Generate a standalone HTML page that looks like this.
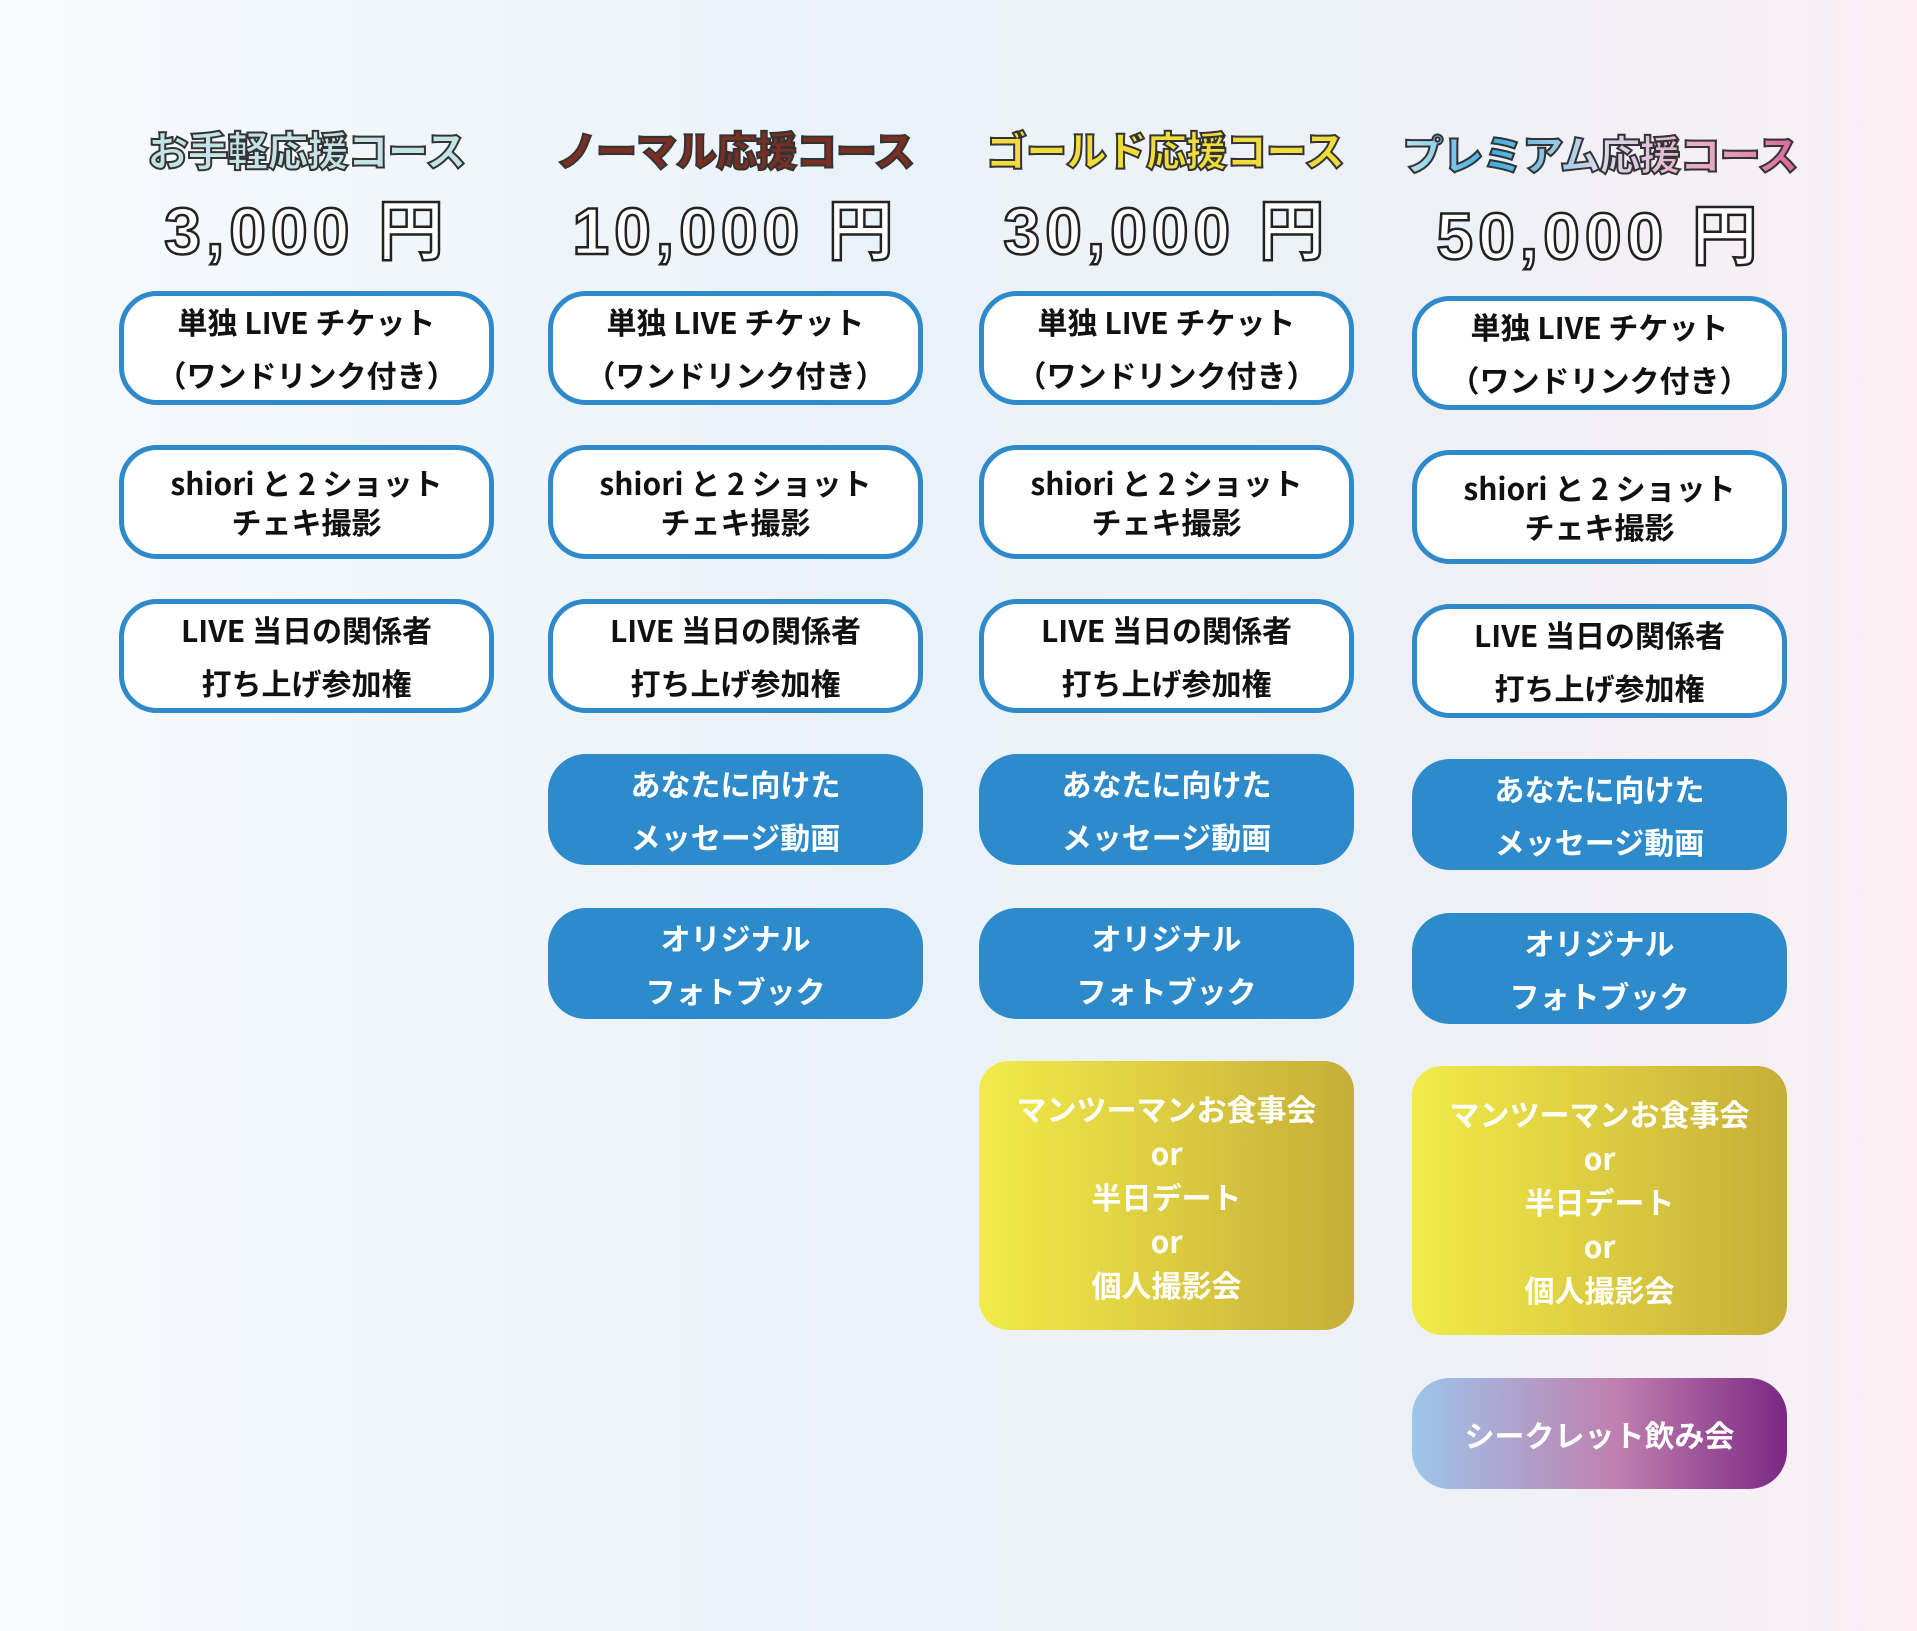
<!DOCTYPE html>
<html><head><meta charset="utf-8"><style>
*{margin:0;padding:0;box-sizing:border-box}
body{width:1917px;height:1631px;overflow:hidden;position:relative;
background:linear-gradient(90deg,#f7fafd 0%,#eaf2f9 45%,#edf1f7 75%,#fbeff3 100%);
font-family:"Liberation Sans","Noto Sans CJK JP",sans-serif;}
.t{position:absolute;text-align:center;font-family:"Noto Sans CJK JP",sans-serif;font-weight:900;font-size:41px;letter-spacing:-1px;-webkit-text-stroke:2px #333;white-space:nowrap;}
.p{position:absolute;text-align:center;font-family:"Liberation Sans","Noto Sans CJK JP",sans-serif;font-weight:bold;font-size:66px;color:#fff;-webkit-text-stroke:2.5px #222;letter-spacing:5px;white-space:nowrap}
.b{position:absolute;width:375px;display:flex;flex-direction:column;justify-content:center;align-items:center;text-align:center;font-family:"Noto Sans CJK JP",sans-serif;font-weight:bold;font-size:30px;border-radius:38px}
.w{background:#fff;border:5px solid #2f8acb;color:#111;height:114px}
.u{background:#2e8bcb;color:#fff;height:111px;line-height:53px}
.g{background:linear-gradient(90deg,#f2eb49,#c6ae38);color:#fff;height:269px;line-height:44px;border-radius:30px}
.s{background:linear-gradient(90deg,#9dc6ea 0%,#c07fae 55%,#7a2884 100%);color:#fff;height:111px}
</style></head><body>
<div class="t" style="left:119px;width:375px;top:118px;color:#c4e3e7">お手軽応援コース</div>
<div class="t" style="left:540px;width:390px;top:118px;color:#7a2f22">ノーマル応援コース</div>
<div class="t" style="left:970px;width:390px;top:118px;color:#f0dc3a">ゴールド応援コース</div>
<div class="t" style="left:1380px;width:440px;top:122px;background:linear-gradient(90deg,#e8f4fc,#3aaee0 25%,#d9d9ec 50%,#e8a8c5 75%,#d65690);-webkit-background-clip:text;background-clip:text;color:transparent">プレミアム応援コース</div>

<div class="p" style="left:119px;width:375px;top:178px">3,000 円</div>
<div class="p" style="left:548px;width:375px;top:178px">10,000 円</div>
<div class="p" style="left:979px;width:375px;top:178px">30,000 円</div>
<div class="p" style="left:1412px;width:375px;top:183px">50,000 円</div>

<!-- col1 -->
<div class="b w" style="left:119px;top:291px;line-height:53px">単独 LIVE チケット<br>（ワンドリンク付き）</div>
<div class="b w" style="left:119px;top:445px;line-height:39px">shiori と 2 ショット<br>チェキ撮影</div>
<div class="b w" style="left:119px;top:599px;line-height:53px">LIVE 当日の関係者<br>打ち上げ参加権</div>
<!-- col2 -->
<div class="b w" style="left:548px;top:291px;line-height:53px">単独 LIVE チケット<br>（ワンドリンク付き）</div>
<div class="b w" style="left:548px;top:445px;line-height:39px">shiori と 2 ショット<br>チェキ撮影</div>
<div class="b w" style="left:548px;top:599px;line-height:53px">LIVE 当日の関係者<br>打ち上げ参加権</div>
<div class="b u" style="left:548px;top:754px">あなたに向けた<br>メッセージ動画</div>
<div class="b u" style="left:548px;top:908px">オリジナル<br>フォトブック</div>
<!-- col3 -->
<div class="b w" style="left:979px;top:291px;line-height:53px">単独 LIVE チケット<br>（ワンドリンク付き）</div>
<div class="b w" style="left:979px;top:445px;line-height:39px">shiori と 2 ショット<br>チェキ撮影</div>
<div class="b w" style="left:979px;top:599px;line-height:53px">LIVE 当日の関係者<br>打ち上げ参加権</div>
<div class="b u" style="left:979px;top:754px">あなたに向けた<br>メッセージ動画</div>
<div class="b u" style="left:979px;top:908px">オリジナル<br>フォトブック</div>
<div class="b g" style="left:979px;top:1061px">マンツーマンお食事会<br>or<br>半日デート<br>or<br>個人撮影会</div>
<!-- col4 -->
<div class="b w" style="left:1412px;top:296px;line-height:53px">単独 LIVE チケット<br>（ワンドリンク付き）</div>
<div class="b w" style="left:1412px;top:450px;line-height:39px">shiori と 2 ショット<br>チェキ撮影</div>
<div class="b w" style="left:1412px;top:604px;line-height:53px">LIVE 当日の関係者<br>打ち上げ参加権</div>
<div class="b u" style="left:1412px;top:759px">あなたに向けた<br>メッセージ動画</div>
<div class="b u" style="left:1412px;top:913px">オリジナル<br>フォトブック</div>
<div class="b g" style="left:1412px;top:1066px">マンツーマンお食事会<br>or<br>半日デート<br>or<br>個人撮影会</div>
<div class="b s" style="left:1412px;top:1378px">シークレット飲み会</div>
</body></html>
